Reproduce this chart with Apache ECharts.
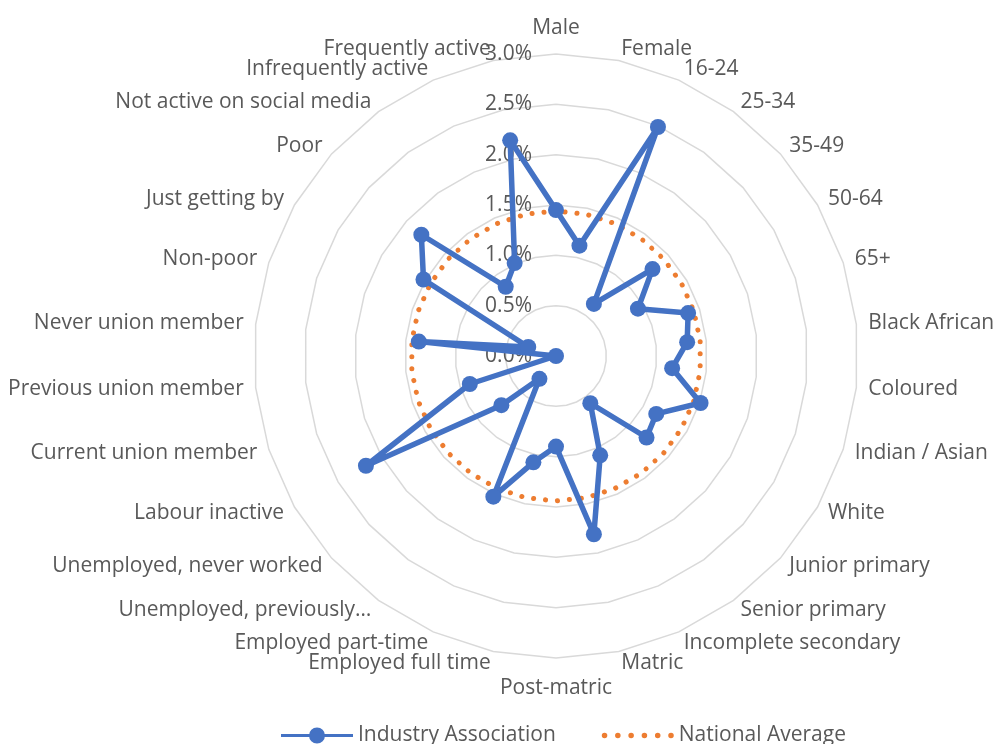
<!DOCTYPE html>
<html><head><meta charset="utf-8">
<script src="https://cdn.jsdelivr.net/npm/echarts@6/dist/echarts.min.js"></script>
<style>html,body{margin:0;padding:0;background:#fff}#c{width:997px;height:744px}</style>
</head><body><div id="c"></div>
<script>
const categories = [
  'Male','Female','16-24','25-34','35-49','50-64','65+',
  'Black African','Coloured','Indian / Asian','White',
  'Junior primary','Senior primary','Incomplete secondary','Matric','Post-matric',
  'Employed full time','Employed part-time','Unemployed, previously\u2026','Unemployed, never worked','Labour inactive',
  'Current union member','Previous union member','Never union member',
  'Non-poor','Just getting by','Poor',
  'Not active on social media','Infrequently active','Frequently active'
];
const industryAssociation = [
  1.45, 1.12, 2.49, 0.64, 1.29, 0.94, 1.38,
  1.31, 1.16, 1.51, 1.15,
  1.21, 0.58, 1.08, 1.81, 0.90,
  1.08, 1.53, 0.28, 0.73, 2.18,
  0.90, 0.00, 1.37,
  0.29, 1.52, 1.80,
  0.85, 1.01, 2.19
];
const nationalAverage = [
  1.44, 1.44, 1.44, 1.44, 1.44, 1.44, 1.44,
  1.44, 1.44, 1.44, 1.44,
  1.44, 1.44, 1.44, 1.44, 1.44,
  1.44, 1.44, 1.44, 1.44, 1.44,
  1.44, 1.44, 1.44,
  1.44, 1.44, 1.44,
  1.44, 1.44, 1.44
];
const tickLabels = ['0.0%','0.5%','1.0%','1.5%','2.0%','2.5%','3.0%'];
const axisMin = 0, axisMax = 3, tickStep = 0.5;

// Excel draws clockwise; ECharts radar goes counter-clockwise, so reorder.
const order = [0];
for (let i = categories.length - 1; i >= 1; i--) order.push(i);

const font = '"Open Sans", Lato, sans-serif';
const textColor = '#595959';

const indicator = order.map((i, k) => {
  const o = { name: categories[i], min: axisMin, max: axisMax };
  if (k === 0) { o.axisLabel = { show: true }; o.nameGap = 15; }
  if (categories[i] === 'Post-matric') o.nameGap = 20;
  return o;
});

const chart = echarts.init(document.getElementById('c'));
chart.setOption({
  animation: false,
  backgroundColor: '#ffffff',
  legend: {
    left: 281,
    top: 725,
    padding: 0,
    itemGap: 46,
    itemWidth: 72,
    itemHeight: 16,
    textStyle: { fontSize: 21, color: textColor, fontFamily: font },
    data: [
      { name: 'Industry Association', icon: 'path://M0,6.5H72V9.5H0Z M28,8A8,8 0 1,1 44,8A8,8 0 1,1 28,8Z' },
      { name: 'National Average', icon: 'path://M0,2.5A2.5,2.5 0 1,1 5,2.5A2.5,2.5 0 1,1 0,2.5Z M12,2.5A2.5,2.5 0 1,1 17,2.5A2.5,2.5 0 1,1 12,2.5Z M24,2.5A2.5,2.5 0 1,1 29,2.5A2.5,2.5 0 1,1 24,2.5Z M36,2.5A2.5,2.5 0 1,1 41,2.5A2.5,2.5 0 1,1 36,2.5Z M48,2.5A2.5,2.5 0 1,1 53,2.5A2.5,2.5 0 1,1 48,2.5Z M60,2.5A2.5,2.5 0 1,1 65,2.5A2.5,2.5 0 1,1 60,2.5Z' }
    ]
  },
  radar: {
    center: [556, 356],
    radius: 302,
    startAngle: 90,
    splitNumber: Math.round((axisMax - axisMin) / tickStep),
    shape: 'polygon',
    indicator: indicator,
    nameGap: 12,
    axisName: { color: textColor, fontSize: 21, fontFamily: font },
    axisLine: { show: false },
    axisTick: { show: false },
    splitArea: { show: false },
    splitLine: { lineStyle: { color: '#d9d9d9', width: 1.5 } },
    axisLabel: {
      show: false,
      margin: 24,
      padding: [5, 0, 0, 0],
      color: textColor,
      fontSize: 21,
      fontFamily: font,
      formatter: function (v) {
        const idx = Math.round((v - axisMin) / tickStep);
        return tickLabels[idx] !== undefined ? tickLabels[idx] : '';
      }
    }
  },
  series: [{
    type: 'radar',
    data: [
      {
        name: 'National Average',
        value: order.map(i => nationalAverage[i]),
        symbol: 'none',
        itemStyle: { color: '#ED7D31' },
        lineStyle: { color: '#ED7D31', width: 5, type: [0.1, 11.9], cap: 'round' }
      },
      {
        name: 'Industry Association',
        value: order.map(i => industryAssociation[i]),
        symbol: 'circle',
        symbolSize: 16,
        itemStyle: { color: '#4472C4' },
        lineStyle: { color: '#4472C4', width: 5.5, join: 'round' }
      }
    ]
  }]
});
</script>
</body></html>
